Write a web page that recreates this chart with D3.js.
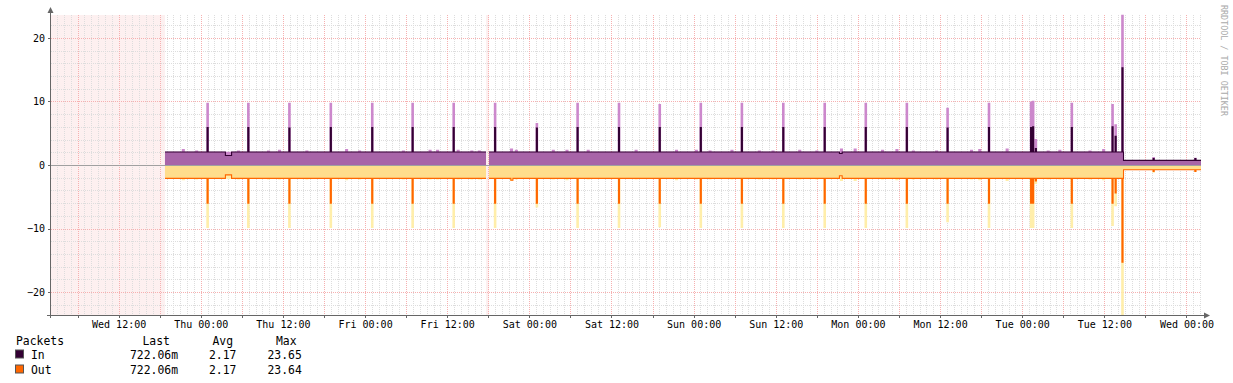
<!DOCTYPE html>
<html>
<head>
<meta charset="utf-8">
<script src="https://cdn.jsdelivr.net/npm/d3@7"></script>
<style>
body { margin: 0; background: #fff; }
text { font-family: "DejaVu Sans Mono", monospace; }
</style>
</head>
<body>
<div id="chart"></div>
<script>
// packets graph, rrdtool style, one week

var w = 1233, h = 383;

// time in hours since the first Wednesday 00:00
var hStart = 2.12, hEnd = 170.12;

// level steps: hour where a level starts, null = no data
var levelHour   = [2.12, 18.77, 27.6, 28.5, 65.67, 66.11, 69.3, 69.6, 117.3, 117.7, 158.8];
var inLevel     = [null, 2.05, 1.5, 2.05, null, 2.05, 2.05, 2.05, 1.8, 2.05, 0.72];
var outLevel    = [null, 2.1, 1.55, 2.1, null, 2.1, 2.4, 2.1, 1.7, 2.1, 0.75];
var inMaxLevel  = [null, 2.1, 2.1, 2.1, null, 2.1, 2.1, 2.1, 2.1, 2.1, 0.8];
var outMaxLevel = [null, 2.15, 2.15, 2.15, null, 2.15, 2.5, 2.15, 2.15, 2.15, 0.8];

// spikes
var spikeHour   = [25.0, 30.95, 36.95, 43.0, 49.05, 54.95, 60.95, 67.0, 73.1, 79.05, 85.1, 91.05, 97.05, 103.05,
                   109.1, 115.15, 121.15, 127.15, 133.1, 139.15, 145.3, 145.6, 146.0, 151.25, 157.2, 157.65,
                   158.65, 163.2, 169.3];
var spikeInAvg  = [5.9, 5.9, 5.8, 5.9, 5.9, 5.9, 5.9, 5.9, 5.8, 5.9, 5.9, 5.9, 5.9, 5.9,
                   5.9, 5.9, 5.9, 5.9, 5.8, 5.9, 5.9, 6.0, 2.6, 5.9, 6.0, 4.5,
                   15.3, 1.0, 1.0];
var spikeInMax  = [9.8, 9.8, 9.8, 9.8, 9.8, 9.8, 9.8, 9.8, 6.6, 9.8, 9.8, 9.6, 9.8, 9.8,
                   9.8, 9.8, 9.8, 9.8, 9.0, 9.8, 10.0, 10.1, 4.1, 9.8, 9.6, 6.4,
                   23.65, 1.25, 1.15];
var spikeOutAvg = [6.0, 6.0, 6.0, 6.0, 6.0, 6.0, 6.0, 6.0, 6.0, 6.0, 6.0, 6.0, 6.0, 6.0,
                   6.0, 6.0, 6.0, 6.0, 6.0, 6.0, 6.0, 6.0, 2.5, 6.0, 6.0, 4.4,
                   15.3, 1.0, 1.0];
var spikeOutMax = [9.9, 9.9, 9.9, 9.9, 9.9, 9.9, 9.9, 9.9, 6.7, 9.9, 9.9, 9.8, 9.9, 9.9,
                   9.9, 9.9, 9.9, 9.9, 9.0, 9.9, 9.9, 9.9, 3.0, 9.9, 9.6, 6.5,
                   23.64, 1.2, 1.1];

// small bumps that only show in the max areas
var bumpHour = [21.45, 23.4, 29.5, 33.9, 35.5, 39.5, 45.3, 47.2, 53.6, 57.5, 58.6, 61.6, 63.6, 64.7, 69.4, 70.1,
                75.5, 77.5, 80.6, 87.6, 93.5, 96.4, 98.4, 101.6, 105.6, 107.6, 111.5, 114.0, 117.6, 119.6,
                123.6, 125.7, 128.1, 131.5, 136.6, 137.8, 141.8, 147.8, 149.5, 153.9, 155.9];
var bumpIn   = [2.5, 2.3, 2.3, 2.3, 2.4, 2.3, 2.5, 2.3, 2.3, 2.4, 2.4, 2.4, 2.3, 2.3, 2.6, 2.4,
                2.4, 2.4, 2.4, 2.4, 2.4, 2.4, 2.3, 2.4, 2.3, 2.3, 2.4, 2.3, 2.6, 2.6,
                2.4, 2.5, 2.3, 2.3, 2.4, 2.5, 2.6, 2.3, 2.4, 2.3, 2.5];
var bumpOut  = [2.4, 2.3, 2.3, 2.3, 2.3, 2.3, 2.4, 2.3, 2.3, 2.3, 2.3, 2.3, 2.3, 2.3, 2.5, 2.3,
                2.3, 2.4, 2.3, 2.3, 2.4, 2.3, 2.3, 2.3, 2.3, 2.3, 2.3, 2.3, 2.5, 2.5,
                2.3, 2.4, 2.3, 2.3, 2.3, 2.4, 2.5, 2.3, 2.3, 2.3, 2.4];

var avgW = 0.15, maxW = 0.38, bumpW = 0.45;

var legendRows = ["In", "Out"];
var legendColors = ["#330033", "#ff6600"];
var legendLast = ["722.06m", "722.06m"];
var legendAvg = ["2.17", "2.17"];
var legendMax = ["23.65", "23.64"];

var base = new Date(2010, 0, 6); // a Wednesday
function hr(v) { return new Date(base.getTime() + v * 36e5); }

function levelAt(levels, t) {
	var v = levels[0];
	for (var i = 0; i < levelHour.length; i++) if (levelHour[i] <= t) v = levels[i];
	return v;
}

// step series from levels + spikes (+ bumps)
function steps(levels, peaks, pw, bumps) {
	var cuts = levelHour.slice();
	spikeHour.forEach(function(c) { cuts.push(c - pw / 2, c + pw / 2); });
	if (bumps) bumpHour.forEach(function(c) { cuts.push(c - bumpW / 2, c + bumpW / 2); });
	cuts.sort(function(a, b) { return a - b; });
	function valueAt(t) {
		var v = levelAt(levels, t);
		if (v == null) return null;
		spikeHour.forEach(function(c, i) {
			if (t >= c - pw / 2 && t < c + pw / 2) v = Math.max(v, peaks[i]);
		});
		if (bumps) bumpHour.forEach(function(c, i) {
			if (t >= c - bumpW / 2 && t < c + bumpW / 2) v = Math.max(v, bumps[i]);
		});
		return v;
	}
	var pts = [], prev = null;
	cuts.forEach(function(t) {
		var v = valueAt(t);
		if (v == null && prev != null) pts.push({ t: t, v: prev });
		pts.push({ t: t, v: v });
		prev = v;
	});
	pts.push({ t: hEnd, v: prev });
	return pts;
}

var inAvgData = steps(inLevel, spikeInAvg, avgW);
var inMaxData = steps(inMaxLevel, spikeInMax, maxW, bumpIn);
var outAvgData = steps(outLevel, spikeOutAvg, avgW);
var outMaxData = steps(outMaxLevel, spikeOutMax, maxW, bumpOut);

var x = d3.scaleTime().domain([hr(hStart), hr(hEnd)]).range([51, 1201]);
var y = d3.scaleLinear().domain([-23.6, 23.6]).range([315, 15]);

var svg = d3.select('#chart').append('svg')
	.attr('width', w)
	.attr('height', h)
	.style('background', '#fff');

// unknown data
svg.append('rect')
	.attr('x', 51).attr('y', 15)
	.attr('width', x(hr(18.77)) - 51).attr('height', 300)
	.attr('fill', '#fdf0f0');
svg.append('rect')
	.attr('x', x(hr(65.67))).attr('y', 15)
	.attr('width', x(hr(66.11)) - x(hr(65.67))).attr('height', 300)
	.attr('fill', '#fdf0f0');

function px(v) { return Math.round(v) + 0.5; }

// grid
var grid = svg.append('g').attr('stroke-width', 1).attr('stroke-dasharray', '1,1');
grid.selectAll('.vmin').data(x.ticks(d3.timeHour.every(1))).enter().append('line')
	.attr('x1', function(d) { return px(x(d)); }).attr('x2', function(d) { return px(x(d)); })
	.attr('y1', 15).attr('y2', 315).attr('stroke', '#dddddd');
grid.selectAll('.hmin').data(d3.ticks(-23.6, 23.6, 24)).enter().append('line')
	.attr('y1', function(d) { return px(y(d)); }).attr('y2', function(d) { return px(y(d)); })
	.attr('x1', 51).attr('x2', 1201).attr('stroke', '#dddddd');
grid.selectAll('.vmaj').data(x.ticks(d3.timeHour.every(6))).enter().append('line')
	.attr('x1', function(d) { return px(x(d)); }).attr('x2', function(d) { return px(x(d)); })
	.attr('y1', 15).attr('y2', 315).attr('stroke', '#f6b0b0');
grid.selectAll('.hmaj').data(d3.ticks(-23.6, 23.6, 5)).enter().append('line')
	.attr('y1', function(d) { return px(y(d)); }).attr('y2', function(d) { return px(y(d)); })
	.attr('x1', 51).attr('x2', 1201).attr('stroke', '#f6b0b0');

// data
var defined = function(d) { return d.v != null; };
var areaIn = d3.area().defined(defined).curve(d3.curveStepAfter)
	.x(function(d) { return x(hr(d.t)); }).y0(y(0)).y1(function(d) { return y(d.v); });
var areaOut = d3.area().defined(defined).curve(d3.curveStepAfter)
	.x(function(d) { return x(hr(d.t)); }).y0(y(0)).y1(function(d) { return y(-d.v); });
var lineIn = d3.line().defined(defined).curve(d3.curveStepAfter)
	.x(function(d) { return x(hr(d.t)); }).y(function(d) { return y(d.v); });
var lineOut = d3.line().defined(defined).curve(d3.curveStepAfter)
	.x(function(d) { return x(hr(d.t)); }).y(function(d) { return y(-d.v); });

svg.append('path').attr('d', areaIn(inMaxData)).attr('fill', '#cc88cc');
svg.append('path').attr('d', areaIn(inAvgData)).attr('fill', '#a864a8');
svg.append('path').attr('d', areaOut(outMaxData)).attr('fill', '#ffeeaa');
svg.append('path').attr('d', areaOut(outAvgData)).attr('fill', '#ffdd8c');
svg.append('path').attr('d', lineIn(inAvgData)).attr('fill', 'none')
	.attr('stroke', '#330033').attr('stroke-width', 1.1);
svg.append('path').attr('d', lineOut(outAvgData)).attr('fill', 'none')
	.attr('stroke', '#ff6600').attr('stroke-width', 1.1);

// zero line
svg.append('line').attr('x1', 51).attr('x2', 1201)
	.attr('y1', px(y(0))).attr('y2', px(y(0)))
	.attr('stroke', '#a0a0a0').attr('stroke-width', 1);

// axes
var ax = svg.append('g').attr('stroke', '#666').attr('fill', '#666');
ax.append('line').attr('x1', 50.5).attr('x2', 50.5).attr('y1', 318).attr('y2', 10);
ax.append('path').attr('d', 'M47.5,13L53.5,13L50.5,7Z').attr('stroke', 'none');
ax.append('line').attr('x1', 47).attr('x2', 1205).attr('y1', 315.5).attr('y2', 315.5);
ax.append('path').attr('d', 'M1204,312.5L1204,318.5L1210,315.5Z').attr('stroke', 'none');
ax.selectAll('.xt').data(x.ticks(d3.timeHour.every(6))).enter().append('line')
	.attr('x1', function(d) { return px(x(d)); }).attr('x2', function(d) { return px(x(d)); })
	.attr('y1', 315).attr('y2', 318);
ax.selectAll('.yt').data(d3.ticks(-23.6, 23.6, 5)).enter().append('line')
	.attr('y1', function(d) { return px(y(d)); }).attr('y2', function(d) { return px(y(d)); })
	.attr('x1', 48).attr('x2', 51);

var xAxis = d3.axisBottom(x).ticks(d3.timeHour.every(12))
	.tickFormat(d3.timeFormat('%a %H:%M')).tickSize(0).tickPadding(0);
var gx = svg.append('g').attr('transform', 'translate(0,320)').call(xAxis);
gx.select('.domain').remove();
gx.selectAll('text').attr('font-size', 10).attr('fill', '#000')
	.attr('font-family', '"DejaVu Sans Mono", monospace').attr('dy', '0.8em');

var yAxis = d3.axisLeft(y).tickValues(d3.ticks(-23.6, 23.6, 5)).tickSize(0).tickPadding(0);
var gy = svg.append('g').attr('transform', 'translate(45,0)').call(yAxis);
gy.select('.domain').remove();
gy.selectAll('text').attr('font-size', 10).attr('fill', '#000')
	.attr('font-family', '"DejaVu Sans Mono", monospace');

// watermark
svg.append('text')
	.attr('transform', 'translate(1220.5,5) rotate(90)')
	.attr('font-size', 8.4).attr('fill', '#aaa')
	.text('RRDTOOL / TOBI OETIKER');

// legend
var lg = svg.append('g').attr('font-size', 11.4).attr('fill', '#000');
lg.append('text').attr('x', 16).attr('y', 345).text('Packets');
lg.append('text').attr('x', 142.5).attr('y', 345).text('Last');
lg.append('text').attr('x', 212.5).attr('y', 345).text('Avg');
lg.append('text').attr('x', 276).attr('y', 345).text('Max');
var rows = lg.selectAll('.row').data(legendRows).enter().append('g')
	.attr('transform', function(d, i) { return 'translate(0,' + (358.5 + i * 15) + ')'; });
rows.append('rect').attr('x', 15.5).attr('y', -8.5).attr('width', 8).attr('height', 8)
	.attr('fill', function(d, i) { return legendColors[i]; }).attr('stroke', '#555');
rows.append('text').attr('x', 31).text(function(d) { return d; });
rows.append('text').attr('x', 130).text(function(d, i) { return legendLast[i]; });
rows.append('text').attr('x', 209).text(function(d, i) { return legendAvg[i]; });
rows.append('text').attr('x', 267.5).text(function(d, i) { return legendMax[i]; });
</script>
</body>
</html>
